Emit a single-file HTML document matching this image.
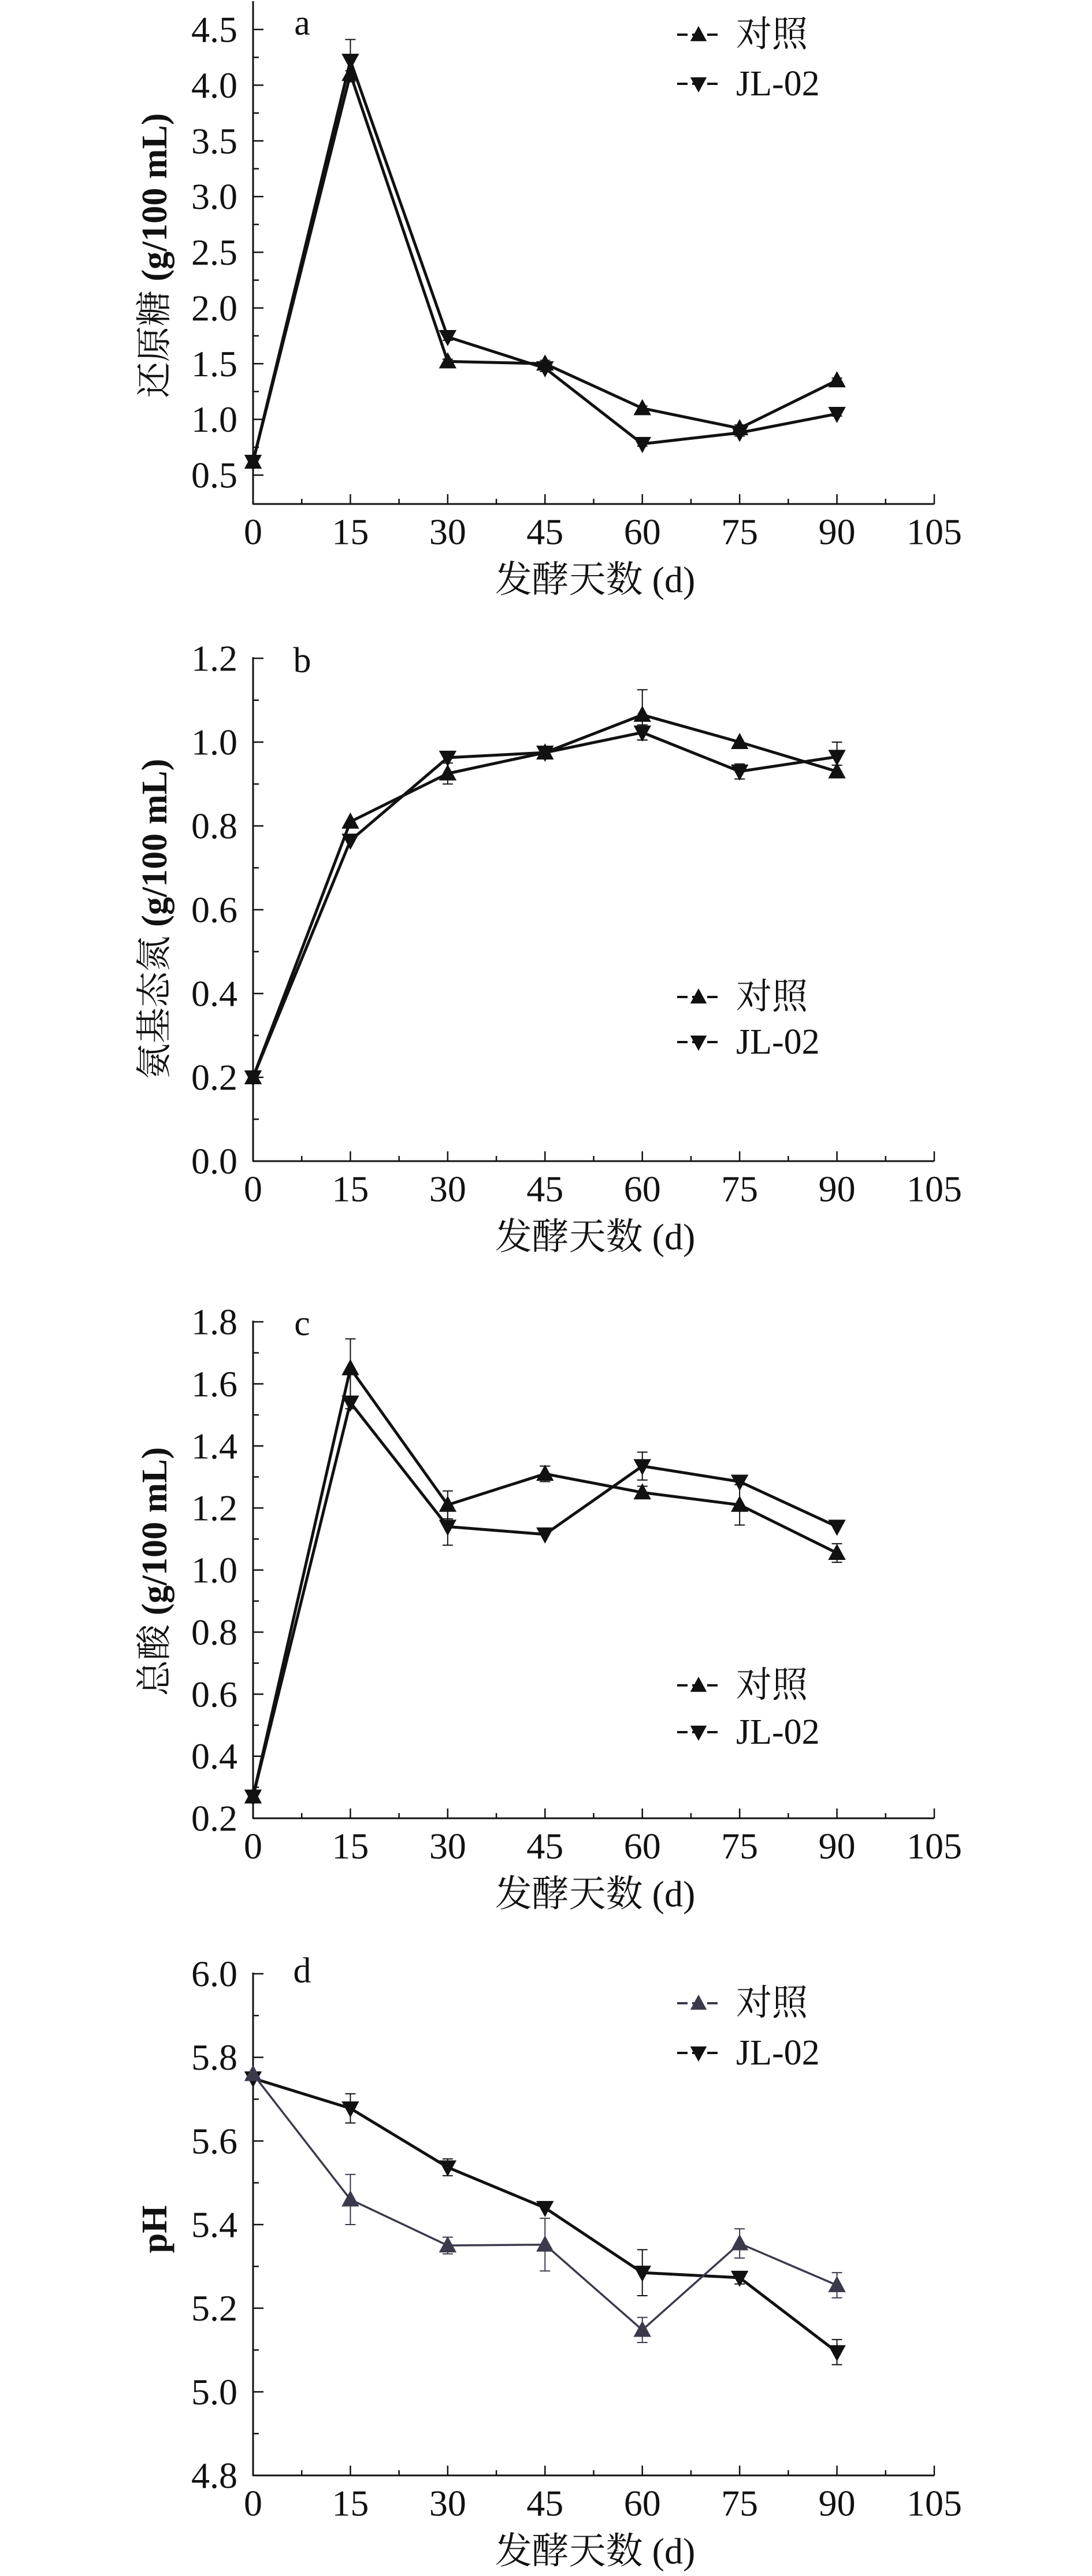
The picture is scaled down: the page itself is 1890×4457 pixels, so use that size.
<!DOCTYPE html>
<html><head><meta charset="utf-8"><style>
html,body{margin:0;padding:0;background:#fff;}
svg{display:block;}
text{font-family:"Liberation Serif","Noto Serif CJK SC","Noto Sans CJK SC",serif;fill:#111;}
</style></head><body>
<svg id="chart" width="1890" height="4457" viewBox="0 0 1890 4457" xmlns="http://www.w3.org/2000/svg"></svg>
<script>
const days = [0,15,30,45,60,75,90];
const xTicks = [0,15,30,45,60,75,90,105];
const aCtrl = [0.62,4.10,1.52,1.50,1.10,0.92,1.35];
const aJL = [0.62,4.22,1.74,1.46,0.78,0.88,1.05];
const aCtrlErr = [0.03,0.03,0.02,0.03,0.02,0.03,0.02];
const aJLErr = [0.03,0.19,0.03,0.03,0.02,0.03,0.02];
const bCtrl = [0.20,0.81,0.925,0.975,1.065,1.00,0.93];
const bJL = [0.20,0.765,0.963,0.975,1.023,0.93,0.965];
const bCtrlErr = [0.01,0.01,0.025,0.008,0.06,0.008,0.015];
const bJLErr = [0.01,0.01,0.008,0.008,0.018,0.018,0.035];
const cCtrl = [0.27,1.65,1.21,1.31,1.25,1.21,1.055];
const cJL = [0.27,1.54,1.14,1.115,1.335,1.285,1.14];
const cCtrlErr = [0.01,0.095,0.045,0.025,0.02,0.065,0.03];
const cJLErr = [0.01,0.02,0.06,0.01,0.045,0.01,0.01];
const dCtrl = [5.76,5.46,5.35,5.352,5.148,5.355,5.255];
const dJL = [5.75,5.678,5.537,5.44,5.285,5.273,5.095];
const dCtrlErr = [0.01,0.06,0.02,0.063,0.03,0.035,0.03];
const dJLErr = [0.01,0.035,0.02,0.01,0.055,0.015,0.03];
const aYTicks = [0.5,1.0,1.5,2.0,2.5,3.0,3.5,4.0,4.5];
const bYTicks = [0.0,0.2,0.4,0.6,0.8,1.0,1.2];
const cYTicks = [0.2,0.4,0.6,0.8,1.0,1.2,1.4,1.6,1.8];
const dYTicks = [4.8,5.0,5.2,5.4,5.6,5.8,6.0];

const NS="http://www.w3.org/2000/svg";
const svg=document.getElementById('chart');
function mk(tag,attrs,parent){const e=document.createElementNS(NS,tag);for(const k in attrs)e.setAttribute(k,attrs[k]);(parent||svg).appendChild(e);return e;}
const X0=438,X1=1617;
function xs(d){return X0+(d-0)/(105-0)*(X1-X0);}

const panels=[
 {id:'a',ctrl:aCtrl,jl:aJL,ce:aCtrlErr,je:aJLErr,ticks:aYTicks,v0:0.5,p0:822,v1:4.5,p1:51,bottom:872,top:2,minor:0.25,
  ylab:'还原糖',ylabY:442,leg:[60,145],letterY:40,ctrlColor:'#111',ctrlW:5},
 {id:'b',ctrl:bCtrl,jl:bJL,ce:bCtrlErr,je:bJLErr,ticks:bYTicks,v0:0,p0:2009,v1:1.2,p1:1139,bottom:2009,top:1137,minor:0.1,
  ylab:'氨基态氮',ylabY:1590,leg:[1725,1803],letterY:1143,ctrlColor:'#111',ctrlW:5},
 {id:'c',ctrl:cCtrl,jl:cJL,ce:cCtrlErr,je:cJLErr,ticks:cYTicks,v0:0.2,p0:3146,v1:1.8,p1:2287,bottom:3146,top:2285,minor:0.1,
  ylab:'总酸',ylabY:2719,leg:[2916,2997],letterY:2290,ctrlColor:'#111',ctrlW:5},
 {id:'d',ctrl:dCtrl,jl:dJL,ce:dCtrlErr,je:dJLErr,ticks:dYTicks,v0:4.8,p0:4283,v1:6.0,p1:3415,bottom:4283,top:3413,minor:0.1,
  ylab:null,ylabY:3857,leg:[3466,3552],letterY:3410,ctrlColor:'#3a3a4c',ctrlW:3.5}
];

function tri(g,x,y,up,color,s){
  s=s||16;
  const pts=up?`${x},${y-s} ${x-s*0.95},${y+s*0.75} ${x+s*0.95},${y+s*0.75}`:`${x},${y+s} ${x-s*0.95},${y-s*0.75} ${x+s*0.95},${y-s*0.75}`;
  return mk('polygon',{points:pts,fill:color},g);
}

panels.forEach(p=>{
  const ys=v=>p.p0+(v-p.v0)/(p.v1-p.v0)*(p.p1-p.p0);
  const g=mk('g',{});
  
  
  const ya=mk('line',{x1:X0,y1:p.top,x2:X0,y2:p.bottom+1,stroke:'#111','stroke-width':3},g);
  
  
  const xa=mk('line',{x1:X0,y1:p.bottom,x2:X1,y2:p.bottom,stroke:'#111','stroke-width':3},g);
  
  
  const lo=p.ticks[0],hi=p.ticks[p.ticks.length-1];
  for(let v=lo;v<=hi+1e-9;v+=p.minor){
    const y=ys(v);
    const isMajor=p.ticks.some(t=>Math.abs(t-v)<1e-6);
    if(Math.abs(y-p.bottom)<2) continue;
    mk('line',{x1:X0,y1:y,x2:X0+(isMajor?18:10),y2:y,stroke:'#111','stroke-width':2.5},g);
  }
  const tickLabY=p.bottom+48, xlabY=p.bottom+131;
  p.ticks.forEach(t=>{
    const tl=mk('text',{x:411,y:ys(t),'text-anchor':'end','dominant-baseline':'central','font-size':64},g);
    tl.textContent=t.toFixed(1);
    
    
  });
  for(let d=7.5;d<=105;d+=7.5){
    const x=xs(d);const major=(d%15===0);
    mk('line',{x1:x,y1:p.bottom,x2:x,y2:p.bottom-(major?17:9),stroke:'#111','stroke-width':2.5},g);
  }
  xTicks.forEach(d=>{
    const tl=mk('text',{x:xs(d),y:tickLabY,'text-anchor':'middle','dominant-baseline':'central','font-size':64},g);
    tl.textContent=String(d);
    
    
  });
  const xl=mk('text',{x:1030,y:xlabY,'text-anchor':'middle','dominant-baseline':'central','font-size':64},g);
  xl.textContent='发酵天数 (d)';
  
  
  const yl=mk('text',{x:0,y:0,'text-anchor':'middle','dominant-baseline':'central','font-size':62,transform:`translate(268,${p.ylabY}) rotate(-90)`},g);
  
  
  if(p.ylab){
    const t1=mk('tspan',{},yl);t1.textContent=p.ylab+' ';
    const t2=mk('tspan',{'font-weight':'bold'},yl);t2.textContent='(g/100 mL)';
  } else {
    yl.setAttribute('font-weight','bold');yl.textContent='pH';
  }
  const lt=mk('text',{x:523,y:p.letterY,'text-anchor':'middle','dominant-baseline':'central','font-size':62},g);
  lt.textContent=p.id;
  
  
  function series(vals,errs,up,color,w,name){
    const sg=mk('g',{},g);
    
    
    mk('polyline',{points:vals.map((v,i)=>xs(days[i])+','+ys(v)).join(' '),fill:'none',stroke:color,'stroke-width':w,'stroke-linejoin':'round'},sg);
    vals.forEach((v,i)=>{
      const x=xs(days[i]),e=errs[i];
      if(e>0.012){
        mk('line',{x1:x,y1:ys(v-e),x2:x,y2:ys(v+e),stroke:color,'stroke-width':2},sg);
        mk('line',{x1:x-9,y1:ys(v-e),x2:x+9,y2:ys(v-e),stroke:color,'stroke-width':2},sg);
        mk('line',{x1:x-9,y1:ys(v+e),x2:x+9,y2:ys(v+e),stroke:color,'stroke-width':2},sg);
      }
      const m=tri(sg,x,ys(v),up,color);
      
      
    });
  }
  series(p.jl,p.je,false,'#111',5,'series-jl02-'+p.id);
  series(p.ctrl,p.ce,true,p.ctrlColor,p.ctrlW,'series-control-'+p.id);
  const lg=mk('g',{},g);
  
  
  [[p.ctrlColor,true,'对照'],['#111',false,'JL-02']].forEach((r,i)=>{
    const y=p.leg[i];
    mk('line',{x1:1172,y1:y,x2:1246,y2:y,stroke:r[0],'stroke-width':4,'stroke-dasharray':'18 8'},lg);
    tri(lg,1209,y,r[1],r[0],15);
    const tx=mk('text',{x:1274,y:y,'dominant-baseline':'central','font-size':62},lg);
    tx.textContent=r[2];
    
    
  });
});
</script>
</body></html>
